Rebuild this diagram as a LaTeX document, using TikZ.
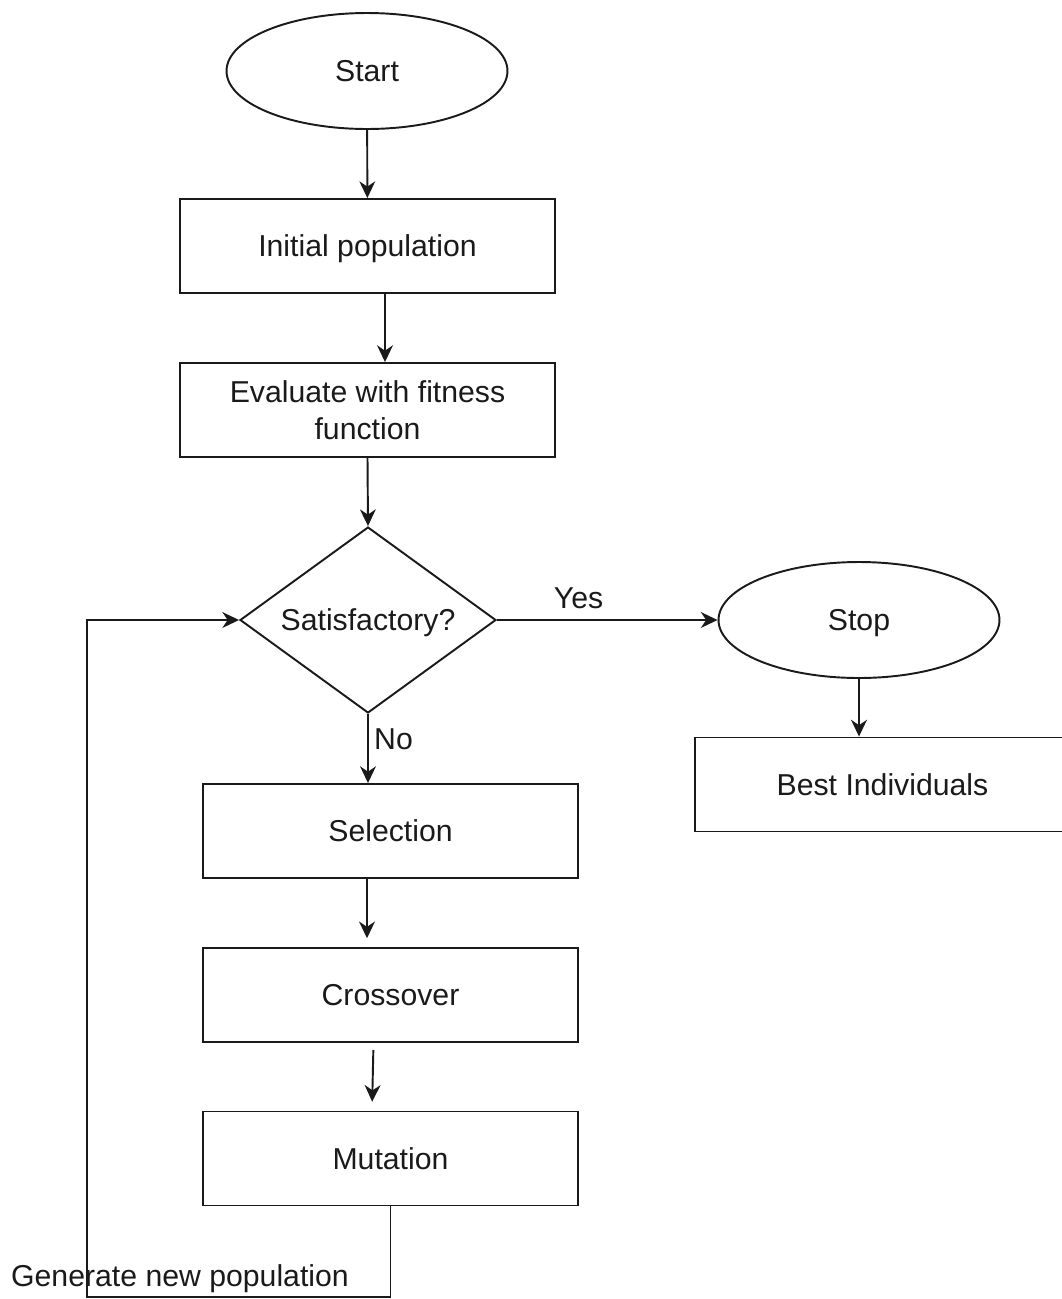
\documentclass[tikz,border=0pt]{standalone}
\usepackage{fontspec}
\setmainfont{Liberation Sans}
\usepackage{xcolor}
\usetikzlibrary{arrows.meta,positioning,calc,shapes.geometric}
\definecolor{ink}{HTML}{1A1A1A}
\tikzset{
  base/.style={draw=ink, line width=1.1pt, text=ink, align=center, inner sep=2pt,
               text height=12.5pt, text depth=0pt,
               font=\fontsize{17.2}{21}\selectfont},
  block/.style={base, rectangle, minimum width=7.5cm, minimum height=1.88cm},
  terminal/.style={base, ellipse, minimum width=5.62cm, minimum height=2.32cm},
  decision/.style={base, diamond, minimum width=5.12cm, minimum height=3.72cm, aspect=1.376},
  arrow/.style={-{Stealth[length=9.5pt,width=9pt,inset=3pt]}, line width=1.1pt, draw=ink},
  tag/.style={text=ink, inner sep=0pt, font=\fontsize{17.2}{21}\selectfont}
}
\begin{document}
\begin{tikzpicture}[x=0.02cm,y=-0.02cm]
    \useasboundingbox (0,0) rectangle (1062,1299);

    % main column
    \node[terminal] (start) at (367,71) {Start};
    \node[block] (init) at (367.5,246) {Initial population};
    \node[block, text height={}, text depth={}] (eval) at (367.5,410) {Evaluate with fitness\\function};
    \node[decision] (sat) at (368,620) {Satisfactory?};

    % stop branch
    \node[terminal] (stop) at (859,620) {Stop};
    \node[block] (best) at (882.5,784.5) {Best Individuals};

    % GA operators
    \node[block] (sel) at (390.5,831) {Selection};
    \node[block] (cross) at (390.5,995) {Crossover};
    \node[block] (mut) at (390.5,1158.5) {Mutation};

    \draw[arrow] (start) -- (init);
    \draw[arrow] ($(init.south)+(17.5,0)$) -- ($(eval.north)+(17.5,0)$);
    \draw[arrow] (eval.south) -- (sat.north);
    \draw[arrow] (sat.east) -- (stop.west) node[tag, pos=0.37, above=6pt] {Yes};
    \draw[arrow] (stop.south) -- (best.north -| stop.south);
    \draw[arrow] (sat.south) -- (sel.north -| sat.south) node[tag, pos=0.37, right=3pt] {No};
    \draw[arrow, shorten >=5pt] ($(sel.south)+(-23.5,0)$) -- ($(cross.north)+(-23.5,0)$);
    \draw[arrow, shorten <=4pt, shorten >=5pt] ($(cross.south)+(-17,0)$) -- ($(mut.north)+(-18.5,0)$);

    % feedback loop
    \coordinate (loopbl) at (87,1297);
    \draw[arrow] (mut.south) |- (loopbl) |- (sat.west);
    \node[tag] (gen) at (180,1279) {Generate new population};
\end{tikzpicture}
\end{document}
